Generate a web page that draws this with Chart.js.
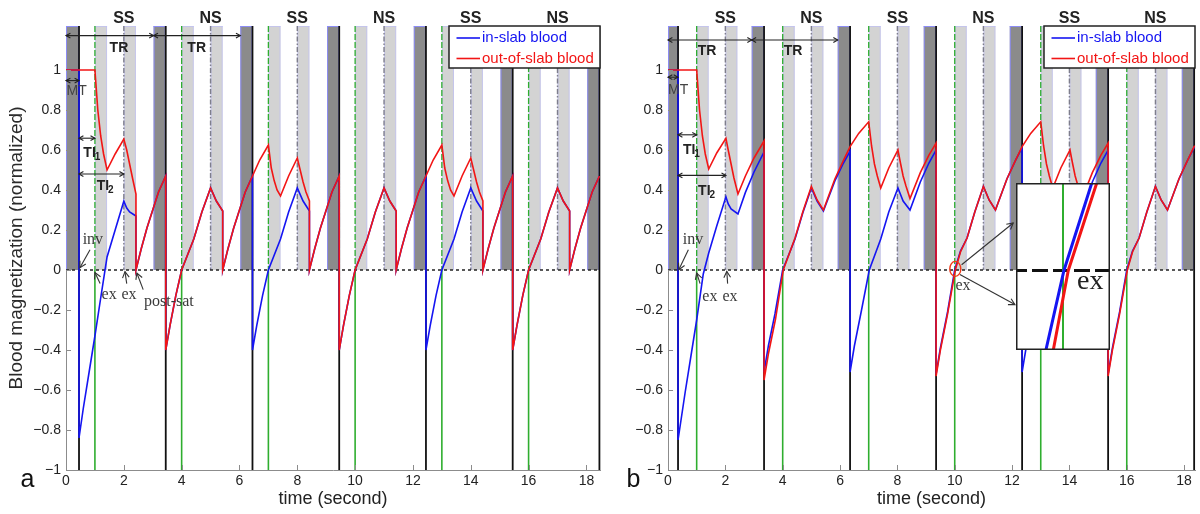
<!DOCTYPE html>
<html>
<head>
<meta charset="utf-8">
<title>Blood magnetization</title>
<script src="https://cdn.jsdelivr.net/npm/chart.js@4.4.1/dist/chart.umd.min.js"></script>
<style>
  html, body { margin: 0; padding: 0; background: #fff; }
  #page { position: relative; width: 1200px; height: 514px; overflow: hidden; background: #fff; }
  canvas { position: absolute; top: 0; }
  #chartA { left: 0; }
  #chartB { left: 600px; }
  #inset { left: 1016px; top: 183px; }
</style>
</head>
<body>
<div id="page">
  <canvas id="chartA" width="602" height="514"></canvas>
  <canvas id="chartB" width="600" height="514"></canvas>
  <canvas id="inset" width="94" height="167"></canvas>
</div>
<script>
var xTicks = [0, 2, 4, 6, 8, 10, 12, 14, 16, 18];
var yTicks = [-1, -0.8, -0.6, -0.4, -0.2, 0, 0.2, 0.4, 0.6, 0.8, 1];

var phaseNames = ["SS", "NS", "SS", "NS", "SS", "NS"];
var phaseTimes = [2, 5, 8, 11, 14, 17];

// excitation (green) and saturation (dashed) times, readout windows
var exciteTimes = [1, 4, 7, 10, 13, 16];
var satTimes = [2, 5, 8, 11, 14, 17];
var readBands = [[1, 1.42], [2, 2.42], [4, 4.42], [5, 5.42], [7, 7.42], [8, 8.42],
  [10, 10.42], [11, 11.42], [13, 13.42], [14, 14.42], [16, 16.42], [17, 17.42]];

// inversion pulses, panel a and b
var invTimesA = [0.45, 3.45, 6.45, 9.45, 12.45, 15.45, 18.45];
var invBandsA = [[0, 0.45], [3.03, 3.45], [6.03, 6.45], [9.03, 9.45], [12.03, 12.45], [15.03, 15.45], [18.03, 18.45]];
var invTimesB = [0.35, 3.35, 6.35, 9.35, 12.35, 15.35, 18.35];
var invBandsB = [[0, 0.35], [2.92, 3.35], [5.92, 6.35], [8.92, 9.35], [11.92, 12.35], [14.92, 15.35], [17.92, 18.35]];

// panel a curves [time, magnetization]
var inSlabA = [
  [0, 1], [0.45, 1], [0.45, -0.84], [0.6, -0.69], [0.8, -0.51], [1, -0.33], [1.2, -0.14], [1.42, 0.065], [1.7, 0.2], [2, 0.344],
  [2.1, 0.31], [2.2, 0.29], [2.42, 0.27], [2.42, 0], [2.6, 0.105], [2.8, 0.21], [3, 0.3], [3.2, 0.39], [3.45, 0.47],
  [3.45, -0.4], [3.6, -0.276], [3.8, -0.127], [4, 0], [4.42, 0.155], [4.7, 0.29], [5, 0.41], [5.2, 0.345], [5.42, 0.295],
  [5.42, 0], [5.6, 0.105], [5.8, 0.21], [6, 0.3], [6.2, 0.39], [6.45, 0.47],
  [6.45, -0.4], [6.6, -0.276], [6.8, -0.127], [7, 0], [7.42, 0.155], [7.7, 0.29], [8, 0.41], [8.2, 0.345], [8.42, 0.295],
  [8.42, 0], [8.6, 0.105], [8.8, 0.21], [9, 0.3], [9.2, 0.39], [9.45, 0.47],
  [9.45, -0.4], [9.6, -0.276], [9.8, -0.127], [10, 0], [10.42, 0.155], [10.7, 0.29], [11, 0.41], [11.2, 0.345], [11.42, 0.295],
  [11.42, 0], [11.6, 0.105], [11.8, 0.21], [12, 0.3], [12.2, 0.39], [12.45, 0.47],
  [12.45, -0.4], [12.6, -0.276], [12.8, -0.127], [13, 0], [13.42, 0.155], [13.7, 0.29], [14, 0.41], [14.2, 0.345], [14.42, 0.295],
  [14.42, 0], [14.6, 0.105], [14.8, 0.21], [15, 0.3], [15.2, 0.39], [15.45, 0.47],
  [15.45, -0.4], [15.6, -0.276], [15.8, -0.127], [16, 0], [16.42, 0.155], [16.7, 0.29], [17, 0.41], [17.2, 0.345], [17.42, 0.295],
  [17.42, 0], [17.6, 0.105], [17.8, 0.21], [18, 0.3], [18.2, 0.39], [18.45, 0.47]
];
var outSlabA = [
  [0, 1], [1, 1], [1.1, 0.8], [1.2, 0.67], [1.3, 0.58], [1.42, 0.5], [1.7, 0.58], [2, 0.655],
  [2.1, 0.6], [2.2, 0.53], [2.3, 0.46], [2.42, 0.38], [2.42, 0], [2.6, 0.105], [2.8, 0.21], [3, 0.3], [3.2, 0.39], [3.45, 0.47],
  [3.45, -0.4], [3.6, -0.276], [3.8, -0.127], [4, 0], [4.42, 0.155], [4.7, 0.29], [5, 0.41], [5.2, 0.345], [5.42, 0.295],
  [5.42, 0], [5.6, 0.105], [5.8, 0.21], [6, 0.3], [6.2, 0.39], [6.45, 0.47],
  [6.7, 0.55], [7, 0.625], [7.1, 0.51], [7.2, 0.447], [7.3, 0.4], [7.42, 0.37], [7.7, 0.47], [8, 0.56],
  [8.1, 0.5], [8.2, 0.44], [8.3, 0.39], [8.42, 0.345], [8.42, 0], [8.6, 0.105], [8.8, 0.21], [9, 0.3], [9.2, 0.39], [9.45, 0.47],
  [9.45, -0.4], [9.6, -0.276], [9.8, -0.127], [10, 0], [10.42, 0.155], [10.7, 0.29], [11, 0.41], [11.2, 0.345], [11.42, 0.295],
  [11.42, 0], [11.6, 0.105], [11.8, 0.21], [12, 0.3], [12.2, 0.39], [12.45, 0.47],
  [12.7, 0.55], [13, 0.625], [13.1, 0.51], [13.2, 0.447], [13.3, 0.4], [13.42, 0.37], [13.7, 0.47], [14, 0.56],
  [14.1, 0.5], [14.2, 0.44], [14.3, 0.39], [14.42, 0.345], [14.42, 0], [14.6, 0.105], [14.8, 0.21], [15, 0.3], [15.2, 0.39], [15.45, 0.47],
  [15.45, -0.4], [15.6, -0.276], [15.8, -0.127], [16, 0], [16.42, 0.155], [16.7, 0.29], [17, 0.41], [17.2, 0.345], [17.42, 0.295],
  [17.42, 0], [17.6, 0.105], [17.8, 0.21], [18, 0.3], [18.2, 0.39], [18.45, 0.47]
];

// panel b curves
var inSlabB = [
  [0, 1], [0.35, 1], [0.35, -0.85], [0.6, -0.61], [0.8, -0.43], [1, -0.25], [1.23, -0.02], [1.42, 0.085], [1.7, 0.22], [2.02, 0.366],
  [2.1, 0.33], [2.2, 0.305], [2.44, 0.28], [2.7, 0.388], [3, 0.49], [3.35, 0.59],
  [3.35, -0.51], [3.5, -0.38], [3.73, -0.22], [4, 0], [4.43, 0.155], [4.7, 0.285], [5, 0.41], [5.2, 0.345], [5.42, 0.295],
  [5.82, 0.445], [6.12, 0.535], [6.35, 0.595],
  [6.35, -0.51], [6.5, -0.38], [6.75, -0.2], [7.02, 0], [7.42, 0.155], [7.7, 0.29], [8.02, 0.41], [8.2, 0.345], [8.44, 0.3],
  [8.8, 0.44], [9.1, 0.535], [9.35, 0.6],
  [9.35, -0.52], [9.5, -0.39], [9.75, -0.21], [10, 0], [10.2, 0.095], [10.43, 0.16], [10.7, 0.29], [11, 0.418], [11.2, 0.35], [11.42, 0.3],
  [11.82, 0.455], [12.12, 0.548], [12.35, 0.612],
  [12.35, -0.51], [12.5, -0.38], [12.75, -0.2], [13.02, 0], [13.42, 0.155], [13.7, 0.29], [14.02, 0.41], [14.2, 0.345], [14.44, 0.3],
  [14.8, 0.44], [15.1, 0.535], [15.35, 0.6],
  [15.35, -0.52], [15.5, -0.39], [15.75, -0.21], [16, 0], [16.2, 0.095], [16.43, 0.16], [16.7, 0.29], [17, 0.418], [17.2, 0.35], [17.42, 0.3],
  [17.82, 0.455], [18.12, 0.548], [18.35, 0.612], [18.38, 0.615]
];
var outSlabB = [
  [0, 1], [1, 1], [1.1, 0.8], [1.2, 0.67], [1.3, 0.58], [1.42, 0.505], [1.7, 0.585], [2.02, 0.658],
  [2.1, 0.6], [2.2, 0.53], [2.3, 0.46], [2.44, 0.38], [2.7, 0.47], [3, 0.56], [3.35, 0.645],
  [3.35, -0.55], [3.5, -0.42], [3.75, -0.245], [4.02, 0], [4.2, 0.07], [4.43, 0.16], [4.7, 0.29], [5, 0.418], [5.2, 0.35], [5.42, 0.3],
  [5.82, 0.455], [6.12, 0.548], [6.35, 0.617],
  [6.65, 0.683], [7, 0.741], [7.1, 0.62], [7.2, 0.53], [7.3, 0.47], [7.42, 0.41], [7.7, 0.51], [8.02, 0.6],
  [8.1, 0.54], [8.2, 0.47], [8.3, 0.42], [8.44, 0.357], [8.8, 0.487], [9.1, 0.574], [9.35, 0.634],
  [9.35, -0.53], [9.5, -0.4], [9.75, -0.22], [10.02, 0], [10.2, 0.09], [10.43, 0.16], [10.7, 0.29], [11, 0.418], [11.2, 0.35], [11.42, 0.3],
  [11.82, 0.455], [12.12, 0.548], [12.35, 0.617],
  [12.65, 0.683], [13, 0.741], [13.1, 0.62], [13.2, 0.53], [13.3, 0.47], [13.42, 0.41], [13.7, 0.51], [14.02, 0.6],
  [14.1, 0.54], [14.2, 0.47], [14.3, 0.42], [14.44, 0.357], [14.8, 0.487], [15.1, 0.574], [15.35, 0.634],
  [15.35, -0.53], [15.5, -0.4], [15.75, -0.22], [16.02, 0], [16.2, 0.09], [16.43, 0.16], [16.7, 0.29], [17, 0.418], [17.2, 0.35], [17.42, 0.3],
  [17.82, 0.455], [18.12, 0.548], [18.35, 0.617], [18.38, 0.62]
];

// magnified view around the excitation at t = 10 s (panel b)
var insetIn = [[9.978, -0.12], [10.001, 0], [10.036, 0.13]];
var insetOut = [[9.9865, -0.12], [10.0056, 0], [10.0414, 0.13]];
var insetZero = [[9.9, 0], [10.1, 0]];
var insetExcite = [[10, -0.2], [10, 0.2]];

var FONT = '"Liberation Sans", Arial, Helvetica, sans-serif';
var SERIF = '"Liberation Serif", "Times New Roman", serif';
var blue = "#1515f2", red = "#f21515", green = "#2fae2f";

var notesA = {
  spans: [[0, 3.03, 1.172], [3.03, 6.03, 1.172], [0, 0.45, 0.947], [0.45, 1, 0.659], [0.45, 2, 0.48]],
  bold: [["TR", 1.83, 1.11], ["TR", 4.52, 1.11]],
  sub: [["TI", "1", 0.6, 0.584], ["TI", "2", 1.06, 0.418]],
  plain: [["MT", 0.02, 0.892]],
  serif: [["inv", 0.93, 0.151], ["ex", 1.49, -0.123], ["ex", 2.18, -0.123], ["post-sat", 3.56, -0.157]],
  pointers: [[0.83, 0.101, 0.48, 0.011], [1.18, -0.068, 1.0, -0.013], [2.1, -0.068, 2.04, -0.008], [2.67, -0.098, 2.45, -0.015]]
};
var notesB = {
  spans: [[0, 2.92, 1.15], [2.92, 5.92, 1.15], [0, 0.35, 0.964], [0.35, 1, 0.676], [0.35, 2.02, 0.473]],
  bold: [["TR", 1.36, 1.092], ["TR", 4.36, 1.092]],
  sub: [["TI", "1", 0.52, 0.6], ["TI", "2", 1.05, 0.393]],
  plain: [["MT", 0.0, 0.9]],
  serif: [["inv", 0.87, 0.151], ["ex", 1.46, -0.132], ["ex", 2.16, -0.132], ["ex", 10.29, -0.078]],
  pointers: [[0.71, 0.101, 0.38, 0.002], [1.12, -0.068, 1.0, -0.015], [2.08, -0.068, 2.05, -0.007],
    [10.24, 0.026, 12.04, 0.235], [10.18, -0.023, 12.1, -0.173]],
  ring: [10.02, 0.0055]
};

function toPts(arr) {
  return arr.map(function (p) { return { x: p[0], y: p[1] }; });
}
function fmtTick(v) {
  return String(v).replace("-", "\u2212");
}

function seg(ctx, x1, y1, x2, y2) {
  ctx.beginPath(); ctx.moveTo(x1, y1); ctx.lineTo(x2, y2); ctx.stroke();
}
function head(ctx, x1, y1, x2, y2, s) {
  var a = Math.atan2(y2 - y1, x2 - x1);
  ctx.beginPath();
  ctx.moveTo(x2 - s * Math.cos(a - 0.5), y2 - s * Math.sin(a - 0.5));
  ctx.lineTo(x2, y2);
  ctx.lineTo(x2 - s * Math.cos(a + 0.5), y2 - s * Math.sin(a + 0.5));
  ctx.stroke();
}

function decorPlugin(p) {
  return {
    id: "decor",
    beforeDatasetsDraw: function (chart) {
      var ctx = chart.ctx, a = chart.chartArea, xs = chart.scales.x, ys = chart.scales.y;
      var y0 = ys.getPixelForValue(0);
      function band(b, fill, edge) {
        var l = xs.getPixelForValue(b[0]), r = xs.getPixelForValue(b[1]);
        ctx.fillStyle = fill;
        ctx.fillRect(l, a.top, r - l, y0 - a.top);
        ctx.strokeStyle = edge; ctx.lineWidth = 1;
        seg(ctx, l + 0.5, a.top, l + 0.5, y0);
        seg(ctx, r - 0.5, a.top, r - 0.5, y0);
        seg(ctx, l, a.top + 0.5, r, a.top + 0.5);
      }
      ctx.save();
      readBands.forEach(function (b) { band(b, "#d3d3d3", "rgba(185,185,255,0.55)"); });
      p.invBands.forEach(function (b) { band(b, "#8b8b8b", "rgba(140,140,255,0.9)"); });

      ctx.lineWidth = 1.4; ctx.strokeStyle = "#7e7e8c"; ctx.setLineDash([5, 2, 1.5, 2]);
      satTimes.forEach(function (t) { var px = xs.getPixelForValue(t); seg(ctx, px, a.top, px, y0); });

      ctx.strokeStyle = green; ctx.setLineDash([6, 2]); ctx.lineWidth = 1.3;
      exciteTimes.forEach(function (t) { var px = xs.getPixelForValue(t); seg(ctx, px, a.top, px, y0); });
      ctx.setLineDash([]); ctx.lineWidth = 1.6;
      exciteTimes.forEach(function (t) { var px = xs.getPixelForValue(t); seg(ctx, px, y0, px, a.bottom); });

      ctx.strokeStyle = "#111"; ctx.lineWidth = 1.8;
      p.inv.forEach(function (t) { var px = xs.getPixelForValue(t); seg(ctx, px, a.top, px, a.bottom); });

      ctx.strokeStyle = "#222"; ctx.lineWidth = 1.5; ctx.setLineDash([3, 3]);
      seg(ctx, a.left, y0, a.right, y0);
      ctx.restore();
    },
    afterDatasetsDraw: function (chart) {
      var ctx = chart.ctx, a = chart.chartArea, xs = chart.scales.x, ys = chart.scales.y;
      var n = p.notes;
      function X(v) { return xs.getPixelForValue(v); }
      function Y(v) { return ys.getPixelForValue(v); }
      ctx.save();
      ctx.setLineDash([]);
      ctx.strokeStyle = "#222"; ctx.lineWidth = 1.1;
      n.spans.forEach(function (s) {
        seg(ctx, X(s[0]), Y(s[2]), X(s[1]), Y(s[2]));
        head(ctx, X(s[1]), Y(s[2]), X(s[0]), Y(s[2]), 5);
        head(ctx, X(s[0]), Y(s[2]), X(s[1]), Y(s[2]), 5);
      });
      ctx.strokeStyle = "#333";
      n.pointers.forEach(function (s) {
        seg(ctx, X(s[0]), Y(s[1]), X(s[2]), Y(s[3]));
        head(ctx, X(s[0]), Y(s[1]), X(s[2]), Y(s[3]), 7);
      });
      if (n.ring) {
        ctx.strokeStyle = "#f03a1a"; ctx.lineWidth = 1.4;
        ctx.beginPath();
        ctx.ellipse(X(n.ring[0]), Y(n.ring[1]), 5.5, 7.5, 0, 0, Math.PI * 2);
        ctx.stroke();
      }
      ctx.textBaseline = "middle";
      ctx.fillStyle = "#222"; ctx.textAlign = "center"; ctx.font = "bold 14px " + FONT;
      n.bold.forEach(function (t) { ctx.fillText(t[0], X(t[1]), Y(t[2])); });
      ctx.textAlign = "left";
      n.sub.forEach(function (t) {
        ctx.font = "bold 14px " + FONT;
        var w = ctx.measureText(t[0]).width;
        ctx.fillText(t[0], X(t[2]), Y(t[3]));
        ctx.font = "bold 10px " + FONT;
        ctx.fillText(t[1], X(t[2]) + w - 1, Y(t[3]) + 4);
      });
      ctx.fillStyle = "#444"; ctx.font = "14px " + FONT;
      n.plain.forEach(function (t) { ctx.fillText(t[0], X(t[1]), Y(t[2])); });
      ctx.textAlign = "center"; ctx.font = "16px " + SERIF; ctx.fillStyle = "#3a3a3a";
      n.serif.forEach(function (t) { ctx.fillText(t[0], X(t[1]), Y(t[2])); });

      // legend box in the top right corner
      var w = 151, h = 42, left = a.right - w, top = a.top;
      ctx.fillStyle = "#fff"; ctx.fillRect(left, top, w, h);
      ctx.strokeStyle = "#222"; ctx.lineWidth = 1.5; ctx.strokeRect(left, top, w, h);
      ctx.font = "15px " + FONT; ctx.textAlign = "left";
      chart.data.datasets.forEach(function (ds, i) {
        var yy = top + 12 + i * 20.5;
        ctx.strokeStyle = ds.borderColor; ctx.lineWidth = 1.6;
        seg(ctx, left + 7.5, yy, left + 31, yy);
        ctx.fillStyle = ds.borderColor;
        ctx.fillText(ds.label, left + 33, yy);
      });
      ctx.restore();
    },
    afterDraw: function (chart) {
      var ctx = chart.ctx, a = chart.chartArea, xs = chart.scales.x, ys = chart.scales.y;
      ctx.save();
      ctx.strokeStyle = "#8c8c8c"; ctx.lineWidth = 1; ctx.setLineDash([]);
      xTicks.forEach(function (t) {
        var px = Math.round(xs.getPixelForValue(t)) + 0.5;
        seg(ctx, px, a.bottom, px, a.bottom - 5);
      });
      yTicks.forEach(function (t) {
        var py = Math.round(ys.getPixelForValue(t)) + 0.5;
        seg(ctx, a.left, py, a.left + 5, py);
      });
      ctx.fillStyle = "#222"; ctx.font = "bold 16px " + FONT;
      ctx.textAlign = "center"; ctx.textBaseline = "alphabetic";
      phaseNames.forEach(function (s, i) { ctx.fillText(s, xs.getPixelForValue(phaseTimes[i]), 23); });
      ctx.fillStyle = "#111"; ctx.font = "25px " + FONT;
      ctx.fillText(p.letter, p.letterX, 487);
      ctx.restore();
    }
  };
}

function buildPanel(p) {
  return new Chart(document.getElementById(p.canvas), {
    type: "line",
    data: {
      datasets: [
        { label: "in-slab blood", data: toPts(p.inSlab), borderColor: blue, borderWidth: 1.6, pointRadius: 0, order: 2 },
        { label: "out-of-slab blood", data: toPts(p.outSlab), borderColor: red, borderWidth: 1.6, pointRadius: 0, order: 1 }
      ]
    },
    options: {
      responsive: false,
      animation: false,
      devicePixelRatio: 1,
      events: [],
      layout: { autoPadding: false, padding: { top: 26, right: p.padRight, left: 0, bottom: 0 } },
      plugins: { legend: { display: false }, tooltip: { enabled: false } },
      scales: {
        x: {
          type: "linear", min: 0, max: p.xMax, position: "bottom",
          afterBuildTicks: function (s) { s.ticks = xTicks.map(function (v) { return { value: v }; }); },
          afterFit: function (s) { s.height = 44; },
          grid: { display: false, drawTicks: false },
          border: { color: "#8c8c8c", width: 1 },
          ticks: { autoSkip: false, maxRotation: 0, padding: 3, color: "#222", font: { size: 14, family: FONT }, callback: fmtTick },
          title: { display: true, text: "time (second)", color: "#222", font: { size: 18, family: FONT }, padding: { top: 4, bottom: 4 } }
        },
        y: {
          type: "linear", min: -1, max: 1.22,
          afterBuildTicks: function (s) { s.ticks = yTicks.map(function (v) { return { value: v }; }); },
          afterFit: function (s) { s.width = p.axisWidth; },
          grid: { display: false, drawTicks: false },
          border: { color: "#8c8c8c", width: 1 },
          ticks: { autoSkip: false, padding: 5, color: "#222", font: { size: 14, family: FONT }, callback: fmtTick },
          title: { display: p.yTitle, text: "Blood magnetization (normalized)", color: "#2a2a2a", font: { size: 19, family: FONT }, padding: { top: 5, bottom: 0 } }
        }
      }
    },
    plugins: [decorPlugin(p)]
  });
}

buildPanel({
  canvas: "chartA", letter: "a", letterX: 27.5, xMax: 18.47, padRight: 2, axisWidth: 66, yTitle: true,
  inv: invTimesA, invBands: invBandsA, inSlab: inSlabA, outSlab: outSlabA, notes: notesA
});
buildPanel({
  canvas: "chartB", letter: "b", letterX: 33.5, xMax: 18.38, padRight: 5, axisWidth: 68, yTitle: false,
  inv: invTimesB, invBands: invBandsB, inSlab: inSlabB, outSlab: outSlabB, notes: notesB
});

// inset: zoom on the zero crossing at the excitation
new Chart(document.getElementById("inset"), {
  type: "line",
  data: {
    datasets: [
      { data: toPts(insetZero), borderColor: "#111", borderWidth: 3, borderDash: [16, 5], pointRadius: 0, order: 4 },
      { data: toPts(insetExcite), borderColor: green, borderWidth: 2, pointRadius: 0, order: 3 },
      { data: toPts(insetIn), borderColor: blue, borderWidth: 3, pointRadius: 0, order: 2 },
      { data: toPts(insetOut), borderColor: red, borderWidth: 3, pointRadius: 0, order: 1 }
    ]
  },
  options: {
    responsive: false,
    animation: false,
    devicePixelRatio: 1,
    events: [],
    layout: { autoPadding: false, padding: 0 },
    plugins: { legend: { display: false }, tooltip: { enabled: false } },
    scales: {
      x: { type: "linear", min: 9.95, max: 10.05, display: false },
      y: { type: "linear", min: -0.1, max: 0.11, display: false }
    }
  },
  plugins: [{
    id: "insetFrame",
    beforeDraw: function (chart) {
      var ctx = chart.ctx;
      ctx.save(); ctx.fillStyle = "#fff"; ctx.fillRect(0, 0, chart.width, chart.height); ctx.restore();
    },
    afterDraw: function (chart) {
      var ctx = chart.ctx;
      ctx.save();
      ctx.fillStyle = "#222"; ctx.font = "28px " + SERIF;
      ctx.textAlign = "left"; ctx.textBaseline = "alphabetic";
      ctx.fillText("ex", 61, 106);
      ctx.strokeStyle = "#222"; ctx.lineWidth = 1.5;
      ctx.strokeRect(0.75, 0.75, chart.width - 1.5, chart.height - 1.5);
      ctx.restore();
    }
  }]
});
</script>
</body>
</html>
